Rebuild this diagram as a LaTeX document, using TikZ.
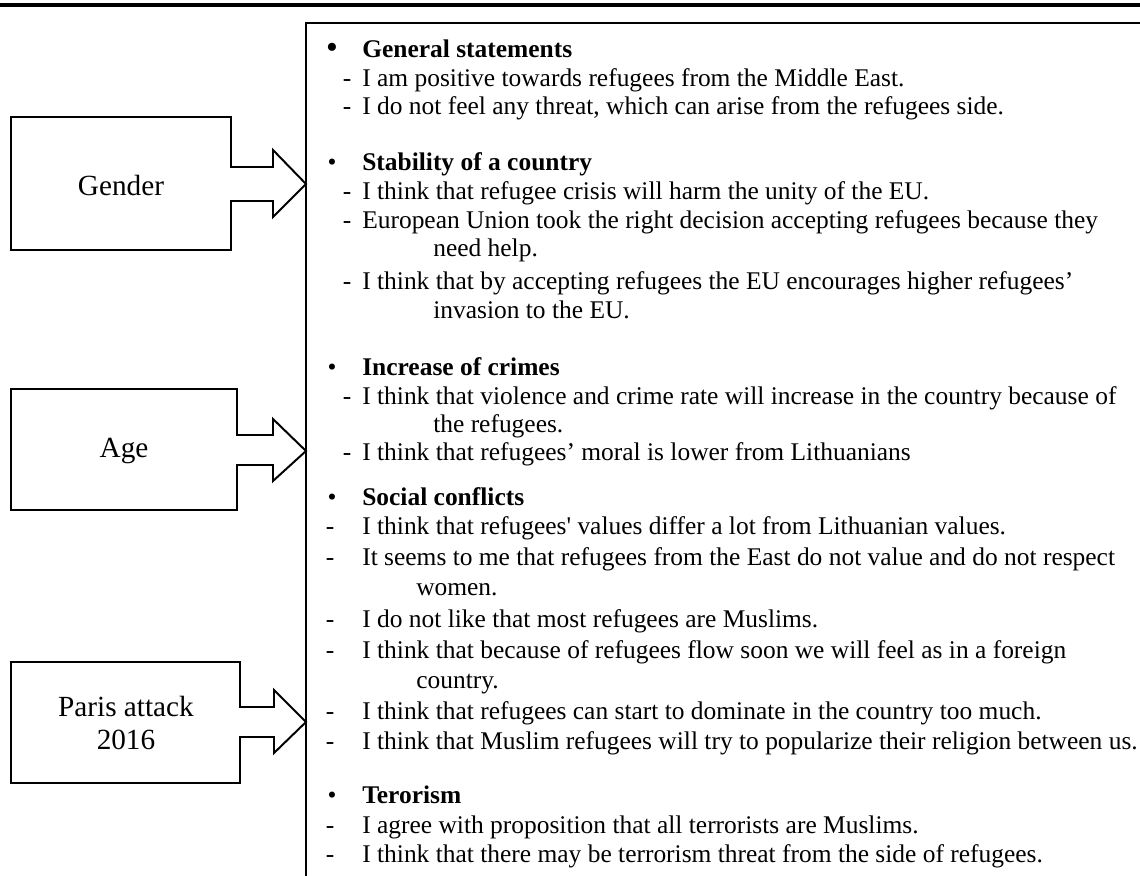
\documentclass[tikz,border=0pt]{standalone}
\usepackage{fontspec}
\setmainfont{Liberation Serif}

\begin{document}
\begin{tikzpicture}[x=0.025cm,y=-0.025cm,
  txt/.style={anchor=base west,inner sep=0pt,font=\fontsize{18.1}{21}\selectfont},
  hdr/.style={txt,font=\fontsize{18.1}{21}\selectfont\bfseries},
  dsh/.style={anchor=base,inner sep=0pt,font=\fontsize{18.1}{21}\selectfont},
  lbl/.style={align=center,inner sep=0pt,font=\fontsize{20.8}{23.5}\selectfont},
  frame/.style={line width=1.4pt,line join=miter}]
\useasboundingbox (0,0) rectangle (1140,876);

% rule on top and the open frame of the list
\draw[line width=2.2pt] (0,5) -- (1140,5);
\draw[frame] (1140,23) -- (306,23) -- (306,876);

% factor boxes with block arrows
\draw[frame] (11,117) -- (231,117) -- (231,167) -- (273,167) -- (273,150) -- (306,184)
  -- (273,217) -- (273,201) -- (231,201) -- (231,250) -- (11,250) -- cycle;
\node[lbl] (gender) at (121,185) {Gender};

\draw[frame] (11,389) -- (237,389) -- (237,435) -- (273,435) -- (273,419) -- (306,451)
  -- (273,481) -- (273,465) -- (237,465) -- (237,510) -- (11,510) -- cycle;
\node[lbl] (age) at (124,451) {Age};

\draw[frame] (11,662) -- (240,662) -- (240,707) -- (274,707) -- (274,690) -- (306,722)
  -- (274,753) -- (274,737) -- (240,737) -- (240,783) -- (11,783) -- cycle;
\node[lbl] (paris) at (126,723) {Paris attack\\2016};

% headings
\node[dsh,font=\fontsize{24}{26}\selectfont] (b1) at (332,58) {•};
\node[hdr] (h1) at (362,57) {General statements};
\foreach \y/\txt [count=\i from 2] in {170/{Stability of a country},375/{Increase of crimes},
    505/{Social conflicts},803/{Terorism}}{
  \node[dsh] (b\i) at (332,\y) {•};
  \node[hdr] (h\i) at (362,\y) {\txt};
}

% statements, first three groups
\foreach \y/\txt [count=\i] in {
    86/{I am positive towards refugees from the Middle East.},
    114/{I do not feel any threat, which can arise from the refugees side.},
    199/{I think that refugee crisis will harm the unity of the EU.},
    228/{European Union took the right decision accepting refugees because they},
    289/{I think that by accepting refugees the EU encourages higher refugees’},
    404/{I think that violence and crime rate will increase in the country because of},
    460/{I think that refugees’ moral is lower from Lithuanians}}{
  \node[dsh] (da\i) at (347,\y) {-};
  \node[txt] (sa\i) at (362,\y) {\txt};
}

% statements, last two groups
\foreach \y/\txt [count=\i] in {
    534/{I think that refugees\textquotesingle{} values differ a lot from Lithuanian values.},
    565/{It seems to me that refugees from the East do not value and do not respect},
    627/{I do not like that most refugees are Muslims.},
    658/{I think that because of refugees flow soon we will feel as in a foreign},
    719/{I think that refugees can start to dominate in the country too much.},
    749/{I think that Muslim refugees will try to popularize their religion between us.},
    833/{I agree with proposition that all terrorists are Muslims.},
    862/{I think that there may be terrorism threat from the side of refugees.}}{
  \node[dsh] (db\i) at (330,\y) {-};
  \node[txt] (sb\i) at (362,\y) {\txt};
}

% wrapped lines
\node[txt] (wa1) at (433,256) {need help.};
\node[txt] (wa2) at (433,318) {invasion to the EU.};
\node[txt] (wa3) at (433,432) {the refugees.};
\node[txt] (wb1) at (416,595) {women.};
\node[txt] (wb2) at (416,688) {country.};
\end{tikzpicture}
\end{document}
